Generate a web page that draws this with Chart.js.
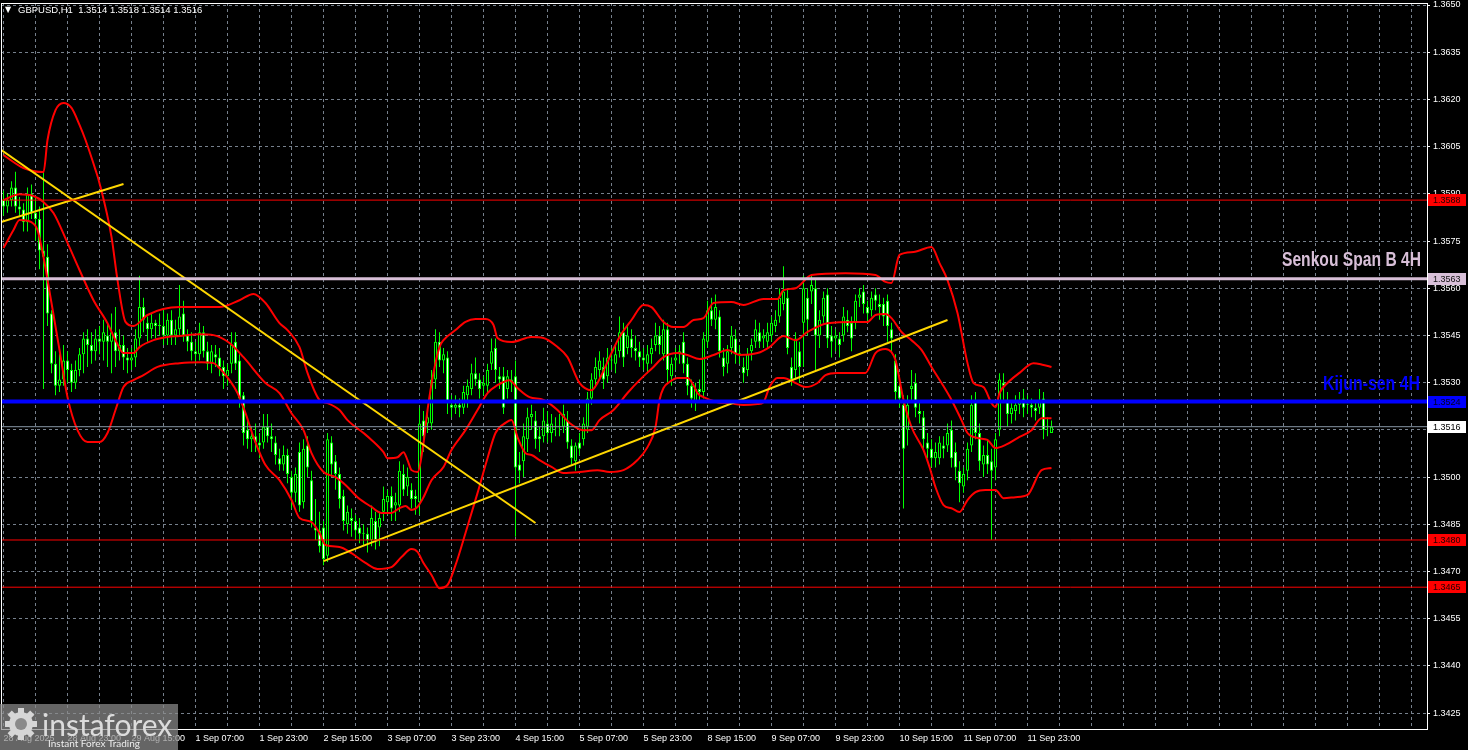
<!DOCTYPE html>
<html>
<head>
<meta charset="utf-8">
<title>GBPUSD H1</title>
<script src="https://cdn.jsdelivr.net/npm/chart.js@4.4.1/dist/chart.umd.min.js"></script>
<style>
    html, body { margin: 0; padding: 0; background: #000; overflow: hidden; }
    #wrap { width: 1468px; height: 750px; }
</style>
</head>
<body>
<div id="wrap"><canvas id="priceChart" width="1468" height="750"></canvas></div>
<script>
// Bottom axis labels, one every 16 bars (H1)
const xLabels = ['28 Aug 2025', '28 Aug 23:00', '29 Aug 15:00', '1 Sep 07:00', '1 Sep 23:00', '2 Sep 15:00',
    '3 Sep 07:00', '3 Sep 23:00', '4 Sep 15:00', '5 Sep 07:00', '5 Sep 23:00', '8 Sep 15:00',
    '9 Sep 07:00', '9 Sep 23:00', '10 Sep 15:00', '11 Sep 07:00', '11 Sep 23:00'];

// Price axis ticks
const yTicks = [1.3425, 1.3440, 1.3455, 1.3470, 1.3485, 1.3500, 1.3515, 1.3530,
    1.3545, 1.3560, 1.3575, 1.3590, 1.3605, 1.3620, 1.3635, 1.3650];

// Candles: [open, high, low, close]
const ohlc = [
    [1.3588,1.3591,1.3583,1.3586],[1.3586,1.3590,1.3584,1.3588],[1.3588,1.3594,1.3586,1.3592],[1.3592,1.3597,1.3584,1.3586],
    [1.3586,1.3589,1.3583,1.3585],[1.3585,1.3587,1.3578,1.3581],[1.3581,1.3592,1.3578,1.3590],[1.3590,1.3593,1.3582,1.3584],
    [1.3584,1.3589,1.3575,1.3582],[1.3582,1.3586,1.3566,1.3572],[1.3572,1.3597,1.3528,1.3570],[1.3570,1.3574,1.3548,1.3552],
    [1.3552,1.3553,1.3533,1.3536],[1.3536,1.3540,1.3526,1.3529],[1.3529,1.3539,1.3527,1.3531],[1.3531,1.3542,1.3529,1.3537],
    [1.3537,1.3540,1.3530,1.3534],[1.3534,1.3536,1.3527,1.3530],[1.3530,1.3537,1.3528,1.3534],[1.3534,1.3541,1.3532,1.3539],
    [1.3539,1.3546,1.3533,1.3544],[1.3544,1.3547,1.3535,1.3542],[1.3542,1.3546,1.3536,1.3540],[1.3540,1.3547,1.3537,1.3544],
    [1.3544,1.3548,1.3539,1.3543],[1.3543,1.3550,1.3537,1.3546],[1.3545,1.3549,1.3535,1.3543],[1.3543,1.3552,1.3533,1.3546],
    [1.3546,1.3554,1.3535,1.3540],[1.3540,1.3547,1.3537,1.3542],[1.3542,1.3545,1.3534,1.3538],[1.3538,1.3541,1.3533,1.3537],
    [1.3537,1.3541,1.3534,1.3538],[1.3538,1.3547,1.3535,1.3544],[1.3544,1.3564,1.3541,1.3554],[1.3554,1.3557,1.3546,1.3550],
    [1.3549,1.3551,1.3543,1.3547],[1.3547,1.3552,1.3544,1.3549],[1.3549,1.3550,1.3544,1.3548],[1.3548,1.3552,1.3545,1.3548],
    [1.3548,1.3553,1.3542,1.3545],[1.3545,1.3552,1.3542,1.3550],[1.3550,1.3553,1.3542,1.3545],[1.3545,1.3550,1.3542,1.3547],
    [1.3547,1.3561,1.3545,1.3551],[1.3552,1.3556,1.3543,1.3545],[1.3545,1.3547,1.3540,1.3543],[1.3543,1.3546,1.3537,1.3540],
    [1.3540,1.3543,1.3536,1.3539],[1.3539,1.3549,1.3537,1.3546],[1.3546,1.3548,1.3538,1.3540],[1.3540,1.3543,1.3534,1.3536],
    [1.3536,1.3542,1.3533,1.3540],[1.3539,1.3542,1.3535,1.3538],[1.3538,1.3541,1.3532,1.3535],[1.3535,1.3537,1.3528,1.3532],
    [1.3532,1.3536,1.3529,1.3534],[1.3536,1.3546,1.3533,1.3542],[1.3543,1.3546,1.3534,1.3536],[1.3537,1.3539,1.3522,1.3525],
    [1.3526,1.3527,1.3510,1.3514],[1.3515,1.3518,1.3509,1.3512],[1.3512,1.3516,1.3508,1.3513],[1.3513,1.3517,1.3508,1.3511],
    [1.3511,1.3514,1.3506,1.3510],[1.3511,1.3520,1.3509,1.3516],[1.3516,1.3520,1.3511,1.3513],[1.3513,1.3517,1.3508,1.3512],
    [1.3511,1.3513,1.3504,1.3507],[1.3506,1.3509,1.3502,1.3504],[1.3504,1.3510,1.3502,1.3507],[1.3507,1.3509,1.3498,1.3501],
    [1.3500,1.3502,1.3490,1.3495],[1.3495,1.3503,1.3492,1.3501],[1.3508,1.3511,1.3489,1.3491],[1.3492,1.3512,1.3490,1.3509],
    [1.3510,1.3513,1.3500,1.3503],[1.3499,1.3502,1.3484,1.3486],[1.3484,1.3493,1.3480,1.3483],[1.3483,1.3489,1.3476,1.3478],
    [1.3484,1.3486,1.3472,1.3474],[1.3475,1.3514,1.3473,1.3512],[1.3511,1.3513,1.3500,1.3504],[1.3505,1.3507,1.3496,1.3501],
    [1.3501,1.3503,1.3490,1.3493],[1.3494,1.3496,1.3483,1.3486],[1.3485,1.3491,1.3482,1.3489],[1.3487,1.3490,1.3481,1.3486],
    [1.3486,1.3488,1.3480,1.3483],[1.3484,1.3487,1.3479,1.3482],[1.3482,1.3485,1.3478,1.3482],[1.3482,1.3484,1.3476,1.3480],
    [1.3480,1.3491,1.3478,1.3487],[1.3486,1.3489,1.3477,1.3480],[1.3484,1.3489,1.3478,1.3487],[1.3489,1.3497,1.3486,1.3493],
    [1.3492,1.3496,1.3488,1.3494],[1.3494,1.3497,1.3486,1.3490],[1.3491,1.3495,1.3486,1.3492],[1.3491,1.3505,1.3489,1.3502],
    [1.3501,1.3504,1.3494,1.3496],[1.3497,1.3503,1.3494,1.3500],[1.3496,1.3498,1.3490,1.3493],[1.3494,1.3496,1.3488,1.3493],
    [1.3492,1.3522,1.3488,1.3517],[1.3518,1.3521,1.3508,1.3513],[1.3517,1.3521,1.3514,1.3519],[1.3517,1.3534,1.3515,1.3531],
    [1.3531,1.3547,1.3528,1.3543],[1.3543,1.3546,1.3535,1.3537],[1.3537,1.3541,1.3533,1.3539],[1.3538,1.3540,1.3520,1.3524],
    [1.3523,1.3526,1.3519,1.3522],[1.3522,1.3526,1.3520,1.3523],[1.3523,1.3525,1.3519,1.3522],[1.3522,1.3529,1.3520,1.3527],
    [1.3526,1.3531,1.3522,1.3529],[1.3528,1.3536,1.3526,1.3533],[1.3533,1.3538,1.3529,1.3531],[1.3531,1.3533,1.3525,1.3528],
    [1.3529,1.3532,1.3526,1.3530],[1.3529,1.3536,1.3527,1.3534],[1.3536,1.3544,1.3534,1.3540],[1.3541,1.3544,1.3530,1.3534],
    [1.3532,1.3535,1.3528,1.3531],[1.3532,1.3535,1.3520,1.3522],[1.3528,1.3534,1.3525,1.3532],[1.3531,1.3534,1.3527,1.3530],
    [1.3532,1.3537,1.3481,1.3503],[1.3504,1.3508,1.3498,1.3502],[1.3505,1.3517,1.3500,1.3513],[1.3512,1.3522,1.3508,1.3519],
    [1.3519,1.3523,1.3515,1.3520],[1.3518,1.3521,1.3509,1.3512],[1.3513,1.3516,1.3508,1.3512],[1.3513,1.3522,1.3511,1.3518],
    [1.3517,1.3521,1.3511,1.3514],[1.3514,1.3520,1.3511,1.3517],[1.3516,1.3519,1.3513,1.3516],[1.3516,1.3520,1.3513,1.3516],
    [1.3516,1.3523,1.3514,1.3520],[1.3518,1.3521,1.3509,1.3511],[1.3510,1.3512,1.3504,1.3506],[1.3505,1.3511,1.3502,1.3510],
    [1.3511,1.3514,1.3507,1.3509],[1.3512,1.3519,1.3510,1.3517],[1.3516,1.3527,1.3514,1.3525],[1.3525,1.3533,1.3523,1.3531],
    [1.3531,1.3538,1.3529,1.3535],[1.3534,1.3540,1.3531,1.3537],[1.3535,1.3538,1.3528,1.3531],[1.3532,1.3541,1.3530,1.3538],
    [1.3537,1.3541,1.3534,1.3537],[1.3536,1.3542,1.3533,1.3539],[1.3540,1.3551,1.3538,1.3546],[1.3546,1.3549,1.3535,1.3538],
    [1.3541,1.3548,1.3539,1.3545],[1.3544,1.3547,1.3538,1.3541],[1.3541,1.3545,1.3537,1.3540],[1.3540,1.3543,1.3535,1.3538],
    [1.3538,1.3541,1.3534,1.3537],[1.3536,1.3542,1.3533,1.3539],[1.3539,1.3544,1.3536,1.3541],[1.3542,1.3549,1.3540,1.3545],
    [1.3545,1.3548,1.3539,1.3542],[1.3539,1.3550,1.3537,1.3547],[1.3547,1.3549,1.3530,1.3534],[1.3532,1.3538,1.3529,1.3536],
    [1.3537,1.3541,1.3534,1.3538],[1.3539,1.3542,1.3536,1.3540],[1.3543,1.3546,1.3533,1.3536],[1.3536,1.3538,1.3526,1.3529],
    [1.3529,1.3531,1.3522,1.3525],[1.3524,1.3530,1.3521,1.3528],[1.3528,1.3531,1.3524,1.3527],[1.3527,1.3546,1.3525,1.3544],
    [1.3543,1.3556,1.3541,1.3553],[1.3553,1.3557,1.3548,1.3550],[1.3550,1.3558,1.3547,1.3554],[1.3551,1.3553,1.3538,1.3540],
    [1.3538,1.3541,1.3532,1.3535],[1.3536,1.3542,1.3533,1.3540],[1.3541,1.3548,1.3539,1.3545],[1.3544,1.3547,1.3536,1.3539],
    [1.3539,1.3542,1.3536,1.3539],[1.3535,1.3538,1.3530,1.3533],[1.3534,1.3541,1.3532,1.3539],[1.3540,1.3544,1.3537,1.3542],
    [1.3543,1.3550,1.3541,1.3547],[1.3546,1.3549,1.3541,1.3543],[1.3544,1.3547,1.3541,1.3545],[1.3543,1.3549,1.3541,1.3546],
    [1.3545,1.3551,1.3543,1.3549],[1.3548,1.3553,1.3546,1.3550],[1.3551,1.3560,1.3549,1.3557],[1.3555,1.3567,1.3553,1.3559],
    [1.3557,1.3560,1.3539,1.3541],[1.3535,1.3538,1.3529,1.3531],[1.3534,1.3546,1.3531,1.3544],[1.3540,1.3543,1.3530,1.3535],
    [1.3549,1.3564,1.3535,1.3560],[1.3557,1.3560,1.3545,1.3550],[1.3559,1.3564,1.3555,1.3561],[1.3560,1.3563,1.3534,1.3545],
    [1.3545,1.3553,1.3541,1.3550],[1.3551,1.3559,1.3549,1.3557],[1.3558,1.3560,1.3541,1.3544],[1.3545,1.3548,1.3538,1.3543],
    [1.3544,1.3547,1.3540,1.3545],[1.3544,1.3546,1.3538,1.3542],[1.3545,1.3554,1.3543,1.3551],[1.3550,1.3553,1.3546,1.3548],
    [1.3549,1.3551,1.3540,1.3544],[1.3549,1.3558,1.3547,1.3556],[1.3557,1.3560,1.3554,1.3558],[1.3559,1.3561,1.3552,1.3555],
    [1.3554,1.3556,1.3549,1.3552],[1.3553,1.3559,1.3551,1.3557],[1.3558,1.3560,1.3553,1.3556],[1.3555,1.3558,1.3550,1.3554],
    [1.3555,1.3557,1.3548,1.3551],[1.3556,1.3558,1.3543,1.3548],[1.3547,1.3549,1.3540,1.3544],[1.3537,1.3539,1.3524,1.3527],
    [1.3529,1.3531,1.3522,1.3525],[1.3523,1.3526,1.3490,1.3509],[1.3515,1.3526,1.3510,1.3523],[1.3528,1.3534,1.3524,1.3529],
    [1.3530,1.3533,1.3519,1.3522],[1.3521,1.3524,1.3517,1.3520],[1.3519,1.3521,1.3508,1.3512],[1.3511,1.3514,1.3506,1.3509],
    [1.3509,1.3512,1.3503,1.3506],[1.3506,1.3511,1.3503,1.3508],[1.3506,1.3513,1.3504,1.3511],[1.3510,1.3513,1.3506,1.3509],
    [1.3510,1.3517,1.3508,1.3514],[1.3515,1.3518,1.3503,1.3506],[1.3508,1.3511,1.3499,1.3503],[1.3502,1.3505,1.3492,1.3498],
    [1.3497,1.3503,1.3495,1.3501],[1.3502,1.3511,1.3499,1.3509],[1.3510,1.3526,1.3508,1.3523],[1.3524,1.3527,1.3512,1.3514],
    [1.3514,1.3517,1.3502,1.3505],[1.3504,1.3510,1.3500,1.3507],[1.3507,1.3512,1.3501,1.3504],[1.3505,1.3509,1.3480,1.3502],
    [1.3503,1.3514,1.3499,1.3512],[1.3515,1.3533,1.3513,1.3531],[1.3530,1.3533,1.3524,1.3529],[1.3524,1.3527,1.3516,1.3520],
    [1.3520,1.3524,1.3517,1.3522],[1.3521,1.3526,1.3518,1.3523],[1.3523,1.3527,1.3520,1.3524],[1.3525,1.3528,1.3519,1.3522],
    [1.3523,1.3526,1.3520,1.3523],[1.3523,1.3525,1.3519,1.3522],[1.3522,1.3524,1.3518,1.3521],[1.3522,1.3528,1.3520,1.3524],
    [1.3525,1.3527,1.3512,1.3515],[1.3516,1.3519,1.3513,1.3516],[1.3514,1.3518,1.3514,1.3516]
];

// Bollinger bands: [bar, price]
const upperBand = [
    [0,1.36023],[5,1.35982],[10,1.35969],[11,1.36071],[13,1.36166],[15,1.36189],[17,1.36173],[19,1.36119],
    [20.5,1.36071],[23,1.35976],[24,1.35934],[27,1.35763],[28.5,1.35626],[30.5,1.35493],[32.5,1.35480],[36,1.35515],
    [44,1.35540],[54,1.35540],[59,1.35562],[62.5,1.35582],[65.5,1.35553],[69,1.35489],[71,1.35467],[74,1.35413],
    [76,1.35331],[79,1.35245],[81,1.35235],[84,1.35213],[86,1.35181],[90,1.35140],[92,1.35118],[95,1.35079],
    [96,1.35060],[98.5,1.35063],[100,1.35079],[101,1.35054],[102,1.35022],[103.5,1.35016],[105,1.35108],[106,1.35213],
    [107.5,1.35331],[109,1.35413],[110,1.35435],[113,1.35467],[115.5,1.35493],[118,1.35502],[120.5,1.35502],[122.5,1.35483],
    [123.5,1.35442],[127,1.35429],[132,1.35445],[135,1.35442],[138.5,1.35413],[141,1.35381],[144,1.35299],[147,1.35276],
    [148.5,1.35299],[152,1.35394],[154,1.35445],[157,1.35499],[160,1.35547],[162,1.35540],[165,1.35493],[167.5,1.35477],
    [170,1.35477],[172.5,1.35499],[175,1.35505],[177.5,1.35553],[182,1.35556],[185,1.35547],[190,1.35566],[193.5,1.35566],
    [195,1.35594],[198,1.35600],[202,1.35642],[210.5,1.35648],[218,1.35642],[220.5,1.35620],[222,1.35617],[224,1.35706],
    [227.5,1.35715],[232,1.35731],[234,1.35680],[236,1.35626],[238.5,1.35521],[241,1.35362],[242.5,1.35299],[245,1.35286],
    [247,1.35235],[248,1.35222],[249,1.35267],[251,1.35299],[254,1.35331],[257.5,1.35362],[260,1.35356],[262,1.35350]
];
const middleBand = [
    [0,1.35880],[4,1.35899],[7.5,1.35893],[10,1.35874],[12.5,1.35839],[16,1.35744],[19,1.35658],[22.5,1.35562],
    [26,1.35489],[28,1.35435],[30,1.35394],[32.5,1.35394],[34,1.35413],[37.5,1.35435],[41,1.35445],[44,1.35448],
    [49,1.35454],[52.5,1.35451],[56.5,1.35426],[60,1.35381],[65.5,1.35299],[69,1.35267],[72,1.35203],[75,1.35149],
    [77,1.35076],[80,1.35016],[83,1.35000],[85.5,1.34975],[88.5,1.34936],[92,1.34905],[94.5,1.34886],[97,1.34886],
    [99,1.34901],[100.5,1.34908],[102,1.34895],[103.5,1.34905],[105,1.34936],[107,1.34990],[110,1.35032],[112,1.35086],
    [115.5,1.35149],[118.5,1.35213],[121,1.35267],[123.5,1.35292],[126.5,1.35308],[128.5,1.35283],[131.5,1.35254],[135,1.35245],
    [138.5,1.35213],[141.5,1.35172],[145,1.35149],[147,1.35149],[149,1.35181],[152.5,1.35213],[156,1.35267],[159,1.35308],
    [162.5,1.35350],[165,1.35381],[168.5,1.35394],[171,1.35388],[174,1.35375],[177.5,1.35388],[181,1.35404],[184,1.35388],
    [188.5,1.35394],[191.5,1.35413],[195,1.35448],[198,1.35435],[201,1.35461],[206,1.35489],[213,1.35493],[216,1.35493],
    [218,1.35515],[220.5,1.35518],[222,1.35505],[224.5,1.35461],[227,1.35435],[229.5,1.35404],[232,1.35350],[234.5,1.35299],
    [237,1.35245],[239.5,1.35181],[241,1.35140],[243.5,1.35124],[246,1.35118],[248,1.35092],[250.5,1.35102],[253.5,1.35124],
    [257,1.35149],[259.5,1.35187],[262,1.35187]
];
const lowerBand = [
    [0,1.35728],[2.5,1.35785],[4,1.35817],[7,1.35810],[8.5,1.35785],[10,1.35699],[12,1.35553],[14,1.35404],
    [16,1.35254],[18.5,1.35149],[21,1.35111],[24,1.35111],[26,1.35140],[28,1.35213],[30,1.35286],[32.5,1.35308],
    [35,1.35324],[38.5,1.35350],[44,1.35362],[49.5,1.35365],[52.5,1.35362],[54,1.35346],[56.5,1.35308],[58.5,1.35267],
    [60.5,1.35203],[62.5,1.35127],[65.5,1.35038],[69,1.34990],[72,1.34927],[74,1.34870],[77,1.34857],[79,1.34822],
    [80.5,1.34784],[84,1.34778],[87,1.34758],[90.5,1.34727],[93.5,1.34708],[97,1.34714],[99.5,1.34746],[102,1.34771],
    [103.5,1.34762],[105,1.34727],[107,1.34689],[109,1.34647],[111,1.34657],[113,1.34720],[115.5,1.34822],[118.5,1.34949],
    [121,1.35060],[123,1.35140],[125.5,1.35172],[127,1.35181],[128.5,1.35127],[130.5,1.35076],[132,1.35070],[134,1.35054],
    [137,1.35032],[140,1.35013],[144,1.35016],[148.5,1.35022],[151.5,1.35016],[155,1.35022],[158.5,1.35054],[161,1.35095],
    [163,1.35159],[164,1.35245],[165,1.35283],[166.5,1.35302],[168.5,1.35315],[171,1.35315],[172.5,1.35292],[173.5,1.35267],
    [175,1.35254],[178.5,1.35238],[181.5,1.35235],[185,1.35229],[188.5,1.35232],[190,1.35238],[191.5,1.35286],[193.5,1.35315],
    [195,1.35315],[198,1.35299],[200.5,1.35286],[203.5,1.35299],[205.5,1.35324],[208.5,1.35331],[215.5,1.35331],[218,1.35394],
    [220.5,1.35407],[222,1.35397],[223,1.35372],[225,1.35245],[227,1.35159],[230,1.35086],[231.5,1.35032],[233,1.34968],
    [235,1.34911],[237,1.34901],[239,1.34889],[241,1.34927],[243,1.34952],[245.5,1.34959],[248,1.34959],[250,1.34933],
    [253,1.34936],[256,1.34943],[259.5,1.35022],[262,1.35029]
];

// Trend lines: [bar, price] end points
const trendDown = [[-0.625, 1.36040], [133, 1.34854]];
const trendUpShort = [[-0.625, 1.35810], [30, 1.35931]];
const trendUpLong = [[80, 1.34733], [236, 1.35499]];

// Horizontal levels
const redLevels = [1.3588, 1.3480, 1.3465];
const senkouLevel = 1.3563;
const kijunLevel = 1.3524;
const lastPrice = 1.3516;
const headerText = 'GBPUSD,H1  1.3514 1.3518 1.3514 1.3516';

// Axis ranges
const X_MIN = -0.625;
const X_MAX = 355.875;
const Y_MIN = 1.341994;
const Y_MAX = 1.365064;

const TICK_FONT = { family: '"Liberation Sans", Arial, sans-serif', size: 9 };
const GRID_COLOR = '#76808c';

const toPoints = arr => arr.map(p => ({ x: p[0], y: p[1] }));
const levelLine = v => [{ x: X_MIN, y: v }, { x: X_MAX, y: v }];

function lineSet(data, color, width, order, smooth) {
    return {
        type: 'line',
        data: data,
        borderColor: color,
        borderWidth: width,
        pointRadius: 0,
        fill: false,
        order: order,
        cubicInterpolationMode: smooth ? 'monotone' : 'default',
        tension: 0
    };
}

// Condensed bold caption squeezed to a fixed width (MT4 text object look)
function drawCaption(ctx, text, right, midY, width, color) {
    ctx.save();
    ctx.font = 'bold 21px "Liberation Sans", Arial, sans-serif';
    ctx.textAlign = 'right';
    ctx.textBaseline = 'middle';
    const w = ctx.measureText(text).width;
    ctx.translate(right, midY);
    ctx.scale(width / w, 1);
    ctx.fillStyle = color;
    ctx.fillText(text, 0, 0);
    ctx.restore();
}

// Black background, frame, price tags and text objects
const overlayPlugin = {
    id: 'overlay',
    beforeDraw(chart) {
        const ctx = chart.ctx;
        ctx.save();
        ctx.fillStyle = '#000';
        ctx.fillRect(0, 0, chart.width, chart.height);
        ctx.restore();
    },
    afterDraw(chart) {
        const { ctx, chartArea: a } = chart;
        const y = chart.scales.y;
        ctx.save();

        // frame
        ctx.strokeStyle = '#ffffff';
        ctx.lineWidth = 1;
        ctx.strokeRect(a.left + 0.5, a.top + 0.5, a.right - a.left, a.bottom - a.top);

        // price tags on the right scale
        const tags = redLevels.map(v => ({ v: v, bg: '#ff0000', fg: '#200000' }));
        tags.push({ v: senkouLevel, bg: '#d8bfd8', fg: '#101010' });
        tags.push({ v: kijunLevel, bg: '#0000ff', fg: '#000020' });
        tags.push({ v: lastPrice, bg: '#ffffff', fg: '#000000' });
        ctx.font = '9px "Liberation Sans", Arial, sans-serif';
        ctx.textBaseline = 'middle';
        ctx.textAlign = 'left';
        tags.forEach(t => {
            const py = Math.round(y.getPixelForValue(t.v));
            ctx.fillStyle = t.bg;
            ctx.fillRect(a.right + 1, py - 6, 38, 12);
            ctx.fillStyle = t.fg;
            ctx.fillText(t.v.toFixed(4), a.right + 6, py + 0.5);
        });

        // text objects
        drawCaption(ctx, 'Senkou Span B 4H', 1421, y.getPixelForValue(senkouLevel) - 19, 139, '#d8bfd8');
        drawCaption(ctx, 'Kijun-sen 4H', 1420, y.getPixelForValue(kijunLevel) - 17, 97, '#0000ff');

        // header
        ctx.textAlign = 'left';
        ctx.textBaseline = 'middle';
        ctx.fillStyle = '#ffffff';
        ctx.font = '8px "DejaVu Sans", sans-serif';
        ctx.fillText('\u25BC', 5, 10);
        ctx.font = '9.5px "Liberation Sans", Arial, sans-serif';
        ctx.fillText(headerText, 18, 10.5);

        // watermark
        ctx.globalAlpha = 0.72;
        ctx.fillStyle = '#8c8c8c';
        ctx.fillRect(0, 704, 178, 46);
        ctx.globalAlpha = 1;
        const gx = 21, gy = 724;
        ctx.fillStyle = '#d6d6d6';
        for (let k = 0; k < 8; k++) {
            ctx.save();
            ctx.translate(gx, gy);
            ctx.rotate(k * Math.PI / 4);
            ctx.fillRect(-3, -16, 6, 6);
            ctx.restore();
        }
        ctx.beginPath();
        ctx.arc(gx, gy, 12, 0, Math.PI * 2);
        ctx.fill();
        ctx.fillStyle = '#8a8a8a';
        ctx.beginPath();
        ctx.arc(gx, gy, 6, 0, Math.PI * 2);
        ctx.fill();
        ctx.fillStyle = '#dcdcdc';
        ctx.textBaseline = 'alphabetic';
        ctx.font = '30px Lato, "Open Sans", sans-serif';
        ctx.fillText('instaforex', 42, 736);
        ctx.font = '10px Lato, "Open Sans", sans-serif';
        ctx.fillStyle = '#eeeeee';
        ctx.fillText('Instant Forex Trading', 48, 747);

        ctx.restore();
    }
};

// Initialize Chart
document.addEventListener('DOMContentLoaded', () => {
    const ctx = document.getElementById('priceChart').getContext('2d');

    const datasets = [
        {
            type: 'bar',
            data: ohlc.map((c, i) => ({ x: i, y: [c[2], c[1]] })),
            backgroundColor: '#00ff00',
            borderWidth: 0,
            barThickness: 1,
            grouped: false,
            minBarLength: 1,
            inflateAmount: 0,
            order: 11
        },
        {
            type: 'bar',
            data: ohlc.map((c, i) => ({ x: i, y: [c[0], c[3]] })),
            backgroundColor: ohlc.map(c => (c[3] >= c[0] ? '#000000' : '#ffffff')),
            borderColor: '#00ff00',
            borderWidth: 1,
            borderSkipped: false,
            barThickness: 3,
            grouped: false,
            minBarLength: 1,
            inflateAmount: 0,
            order: 10
        },
        lineSet(toPoints(upperBand), '#ff0000', 2, 5, true),
        lineSet(toPoints(middleBand), '#ff0000', 2, 5, true),
        lineSet(toPoints(lowerBand), '#ff0000', 2, 5, true),
        lineSet(toPoints(trendDown), '#ffd700', 2, 4, false),
        lineSet(toPoints(trendUpShort), '#ffd700', 2, 4, false),
        lineSet(toPoints(trendUpLong), '#ffd700', 2, 4, false),
        lineSet(levelLine(lastPrice), '#8796a5', 1, 3, false),
        lineSet(levelLine(senkouLevel), '#d8bfd8', 3, 2, false),
        lineSet(levelLine(kijunLevel), '#0000ff', 4, 2, false)
    ];
    redLevels.forEach(v => datasets.push(lineSet(levelLine(v), '#ff0000', 1, 1, false)));

    new Chart(ctx, {
        type: 'bar',
        data: { datasets: datasets },
        options: {
            responsive: false,
            animation: false,
            devicePixelRatio: 1,
            events: [],
            layout: { padding: { left: 1, top: 3, right: 0, bottom: 0 } },
            plugins: {
                legend: { display: false },
                tooltip: { enabled: false }
            },
            scales: {
                x: {
                    type: 'linear',
                    min: X_MIN,
                    max: X_MAX,
                    offset: false,
                    afterBuildTicks: scale => {
                        const t = [];
                        for (let v = 0; v <= 352; v += 8) t.push({ value: v });
                        scale.ticks = t;
                    },
                    afterFit: scale => {
                        scale.height = 21;
                        scale.paddingLeft = 0;
                        scale.paddingRight = 0;
                    },
                    ticks: {
                        autoSkip: false,
                        maxRotation: 0,
                        minRotation: 0,
                        align: 'start',
                        padding: 4,
                        color: '#ffffff',
                        font: TICK_FONT,
                        callback: v => (v % 16 === 0 && v / 16 < xLabels.length ? xLabels[v / 16] : '')
                    },
                    grid: { color: GRID_COLOR, lineWidth: 1, drawTicks: false, offset: false },
                    border: { display: false, dash: [3, 3] }
                },
                y: {
                    type: 'linear',
                    position: 'right',
                    min: Y_MIN,
                    max: Y_MAX,
                    afterBuildTicks: scale => {
                        scale.ticks = yTicks.map(v => ({ value: v }));
                    },
                    afterFit: scale => {
                        scale.width = 41;
                        scale.paddingTop = 0;
                        scale.paddingBottom = 0;
                    },
                    ticks: {
                        color: '#ffffff',
                        font: TICK_FONT,
                        padding: 3,
                        callback: v => Number(v).toFixed(4)
                    },
                    grid: { color: GRID_COLOR, lineWidth: 1, tickColor: '#ffffff', tickLength: 3, drawTicks: true },
                    border: { display: false, dash: [3, 3] }
                }
            }
        },
        plugins: [overlayPlugin]
    });
});
</script>
</body>
</html>
